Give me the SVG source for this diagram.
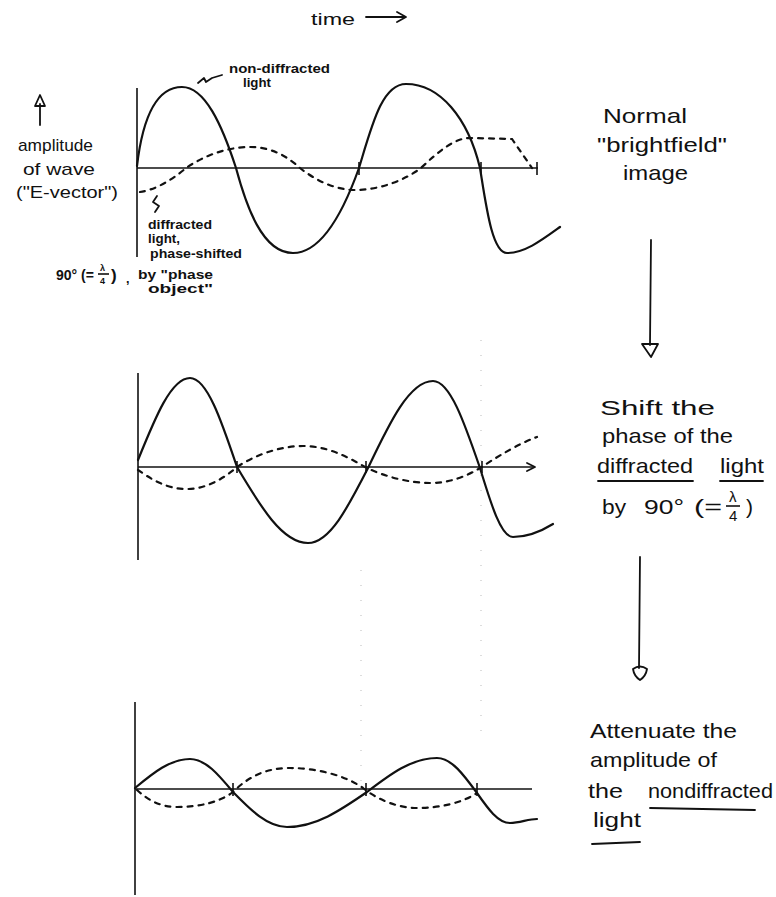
<svg xmlns="http://www.w3.org/2000/svg" width="776" height="897" viewBox="0 0 776 897">
<style>
.bg{fill:#fff}
.ax{stroke:#111;stroke-width:1.6;fill:none}
.sol{stroke:#111;stroke-width:2.2;fill:none;stroke-linecap:round;stroke-linejoin:round}
.dsh{stroke:#111;stroke-width:2.2;fill:none;stroke-dasharray:5 6;stroke-linecap:round}
.tk{stroke:#111;stroke-width:1.6}
.ln{stroke:#111;stroke-width:1.8;fill:none;stroke-linecap:round;stroke-linejoin:round}
.faint{stroke:#bbb;stroke-width:1;stroke-dasharray:1 14}
text{font-family:"Liberation Sans","DejaVu Sans",sans-serif;fill:#111}
.big{font-size:21px}
.mid{font-size:17px}
.sm{font-size:12.5px;font-weight:bold}
.fr{font-size:9px;font-weight:bold}
</style>
<rect class="bg" x="0" y="0" width="776" height="897"/>

<g id="faint-guides">
<line class="faint" x1="361" y1="570" x2="361" y2="785"/>
<line class="faint" x1="481" y1="340" x2="481" y2="735"/>
</g>

<g id="time-label">
<text class="mid" x="311" y="25" textLength="44" lengthAdjust="spacingAndGlyphs">time</text>
</g>

<g id="panel-1">
<line class="ax" x1="137" y1="88" x2="137" y2="257"/>
<line class="ax" x1="137" y1="168" x2="538" y2="168"/>
<line class="tk" x1="537" y1="162" x2="537" y2="175"/>
<line class="tk" x1="359" y1="162" x2="359" y2="175"/>
<line class="tk" x1="481" y1="162" x2="481" y2="175"/>
<path class="sol" d="M137,166 C143,115 158,87 182,87 C205,87 222,125 236,168 C246,205 262,253 293,253 C322,253 344,210 359,168 C372,125 382,84 406,84 C440,84 468,118 480,168 C486,205 492,253 507,253 C525,253 542,240 560,227"/>
<path class="dsh" d="M140,192 C155,190 172,180 186,168 C205,155 228,147 250,147 C272,147 288,157 300,168 C315,180 335,190 355,190 C380,190 405,180 421,168 C440,150 455,138 470,138 L512,139 L532,168"/>
</g>

<g id="label-nondiffracted">
<path class="ln" d="M198,83 L204,78 L206,82 L212,78 L222,75"/>
<text class="sm" x="229" y="73" textLength="101" lengthAdjust="spacingAndGlyphs">non-diffracted</text>
<text class="sm" x="243" y="87" textLength="28" lengthAdjust="spacingAndGlyphs">light</text>
</g>

<g id="label-amplitude">
<text class="mid" x="18" y="151" textLength="75" lengthAdjust="spacingAndGlyphs">amplitude</text>
<text class="mid" x="23" y="175" textLength="72" lengthAdjust="spacingAndGlyphs">of wave</text>
<text class="mid" x="16" y="198" textLength="102" lengthAdjust="spacingAndGlyphs">("E-vector")</text>
</g>

<g id="label-diffracted">
<path class="ln" d="M157,196 L153,202 L159,206 L155,212"/>
<text class="sm" x="148" y="229" textLength="64" lengthAdjust="spacingAndGlyphs">diffracted</text>
<text class="sm" x="148" y="243" textLength="32" lengthAdjust="spacingAndGlyphs">light,</text>
<text class="sm" x="150" y="258" textLength="92" lengthAdjust="spacingAndGlyphs">phase-shifted</text>
<text x="56" y="280" style="font-size:14px;font-weight:bold">90° (=</text>
<text class="fr" x="100" y="271">λ</text>
<line class="tk" x1="98" y1="274" x2="109" y2="274" stroke-width="1.2"/>
<text class="fr" x="100" y="284">4</text>
<text x="111" y="281" style="font-size:17px;font-weight:bold">)</text>
<text class="sm" x="126" y="283">,</text>
<text class="sm" x="138" y="279" textLength="75" lengthAdjust="spacingAndGlyphs">by "phase</text>
<text class="sm" x="148" y="293" textLength="65" lengthAdjust="spacingAndGlyphs">object"</text>
</g>

<g id="label-brightfield">
<text class="big" x="603" y="123" textLength="84" lengthAdjust="spacingAndGlyphs">Normal</text>
<text class="big" x="597" y="152" textLength="130" lengthAdjust="spacingAndGlyphs">"brightfield"</text>
<text class="big" x="623" y="180" textLength="65" lengthAdjust="spacingAndGlyphs">image</text>
</g>

<g id="panel-2">
<line class="ax" x1="138" y1="373" x2="138" y2="560"/>
<line class="ax" x1="138" y1="467" x2="535" y2="467"/>
<path class="ln" d="M527,463 L535,467 L527,471"/>
<line class="tk" x1="237" y1="461" x2="237" y2="473"/>
<line class="tk" x1="366" y1="461" x2="366" y2="473"/>
<line class="tk" x1="482" y1="461" x2="482" y2="473"/>
<path class="sol" d="M138,460 C155.4,417 171.3,378 190,378 C206.9,378 221.3,420.3 237,467 C260.7,506.9 282.4,543 308,543 C329.6,543 347.9,507.4 368,468 C389.7,422.3 409.6,381 433,381 C449.9,381 464.3,422.3 480,468 C491,504.2 501.1,537 513,537 C528,537 540,532 553,524"/>
<path class="dsh" d="M138,470 C150,478 165,489 187,489 C205,489 222,480 237,467 C255,455 280,446 303,446 C325,446 345,455 365,467 C385,477 410,483 430,483 C450,483 467,476 480,468 C500,455 520,443 537,437"/>
</g>

<g id="label-shift">
<text class="big" x="600" y="415" textLength="115" lengthAdjust="spacingAndGlyphs">Shift the</text>
<text class="big" x="602" y="443" textLength="131" lengthAdjust="spacingAndGlyphs">phase of the</text>
<text class="big" x="597" y="473" textLength="96" lengthAdjust="spacingAndGlyphs">diffracted</text>
<text class="big" x="720" y="473" textLength="44" lengthAdjust="spacingAndGlyphs">light</text>
<line class="ln" x1="598" y1="481" x2="693" y2="481"/>
<line class="ln" x1="720" y1="481" x2="763" y2="481"/>
<text class="big" x="602" y="514" textLength="24" lengthAdjust="spacingAndGlyphs">by</text>
<text class="big" x="644" y="514" textLength="40" lengthAdjust="spacingAndGlyphs">90°</text>
<text class="big" x="694" y="514" textLength="28" lengthAdjust="spacingAndGlyphs">(=</text>
<text x="729" y="502" style="font-size:15px">λ</text>
<line class="tk" x1="726" y1="506" x2="740" y2="506"/>
<text x="729" y="521" style="font-size:15px">4</text>
<text class="big" x="746" y="514">)</text>
</g>

<g id="panel-3">
<line class="ax" x1="135" y1="702" x2="135" y2="895"/>
<line class="ax" x1="135" y1="789" x2="532" y2="789"/>
<line class="tk" x1="233" y1="783" x2="233" y2="796"/>
<line class="tk" x1="366" y1="783" x2="366" y2="796"/>
<line class="tk" x1="477" y1="783" x2="477" y2="796"/>
<path class="sol" d="M135,788 C153.4,772.8 170.2,759 190,759 C205.5,759 218.6,774.7 233,792 C251,810.4 267.6,827 287,827 C315.8,827 340.3,810.4 367,792 C390.4,774.1 411.8,758 437,758 C451.4,758 463.6,774.6 477,793 C488,808.8 498.1,823 510,823 C520,823 528,819 537,819"/>
<path class="dsh" d="M137,790 C148,800 160,807 177,807 C200,807 220,802 233,792 C250,775 268,768 290,768 C315,768 345,775 363,788 C378,800 398,808 417,808 C440,808 462,803 477,793"/>
</g>

<g id="label-attenuate">
<text class="big" x="590" y="738" textLength="147" lengthAdjust="spacingAndGlyphs">Attenuate the</text>
<text class="big" x="590" y="767" textLength="127" lengthAdjust="spacingAndGlyphs">amplitude of</text>
<text class="big" x="588" y="798" textLength="35" lengthAdjust="spacingAndGlyphs">the</text>
<text class="big" x="648" y="798" textLength="125" lengthAdjust="spacingAndGlyphs">nondiffracted</text>
<line class="ln" x1="650" y1="808" x2="755" y2="810"/>
<text class="big" x="593" y="827" textLength="48" lengthAdjust="spacingAndGlyphs">light</text>
<line class="ln" x1="592" y1="844" x2="640" y2="842"/>
</g>

<g id="connectors">
<path class="ln" d="M366,17 L405,17 M397,12 L406,17 L397,22"/>
<path class="ln" d="M40,125 L40,104 M35,106 L40,95 L45,106 Z"/>
<path class="ln" d="M651,240 L650,345"/>
<path class="ln" d="M642,344 L658,344 L651,357 Z"/>
<path class="ln" d="M640,557 L639,668"/>
<path class="ln" d="M633,669 Q640,664 647,669 Q646,676 640,680 Q634,676 633,669 Z"/>
</g>
</svg>
